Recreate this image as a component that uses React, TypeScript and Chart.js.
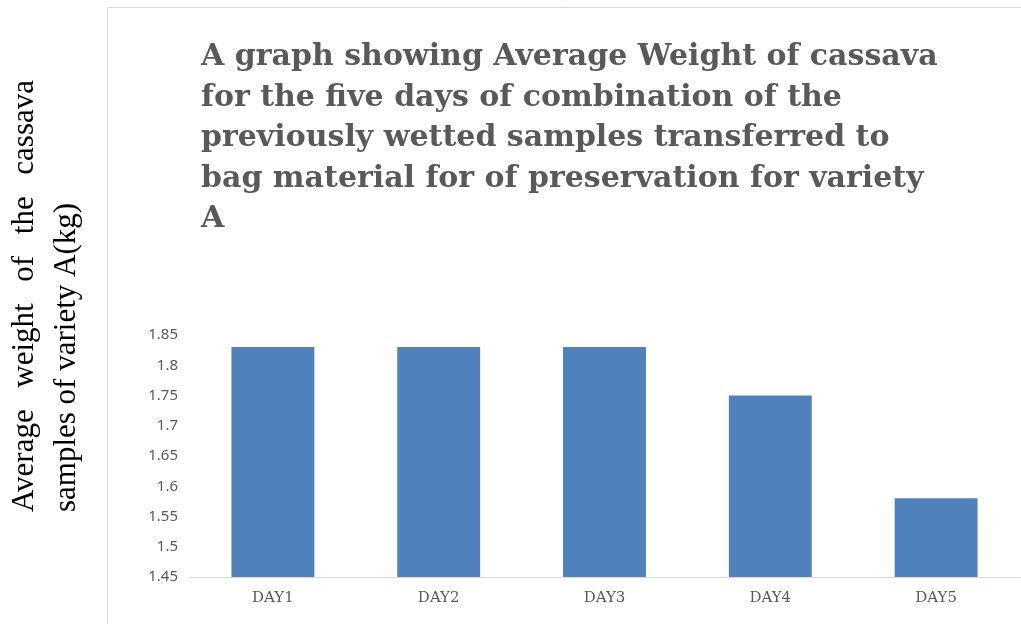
import React, { useEffect, useRef } from "react";
import { Chart, registerables } from "chart.js";

Chart.register(...registerables);

// Average weight of cassava samples (variety A) per day
const days = ["DAY1", "DAY2", "DAY3", "DAY4", "DAY5"];
const avgWeightKg = [1.83, 1.83, 1.83, 1.75, 1.58];

const titleLines = [
  "A graph showing Average Weight of cassava",
  "for the five days of combination of the",
  "previously wetted samples transferred to",
  "bag material for of preservation for variety",
  "A",
];
const yTitleLines = ["Average weight of the cassava", "samples of variety A(kg)"];

const yMin = 1.45;
const yMax = 1.85;
const yStep = 0.05;

const W = 1021;
const H = 624;
const GREY_TEXT = "#595959";
const FRAME = "#d9d9d9";
const BAR = "#4f81bd";

// Frame, big left-aligned title and the justified, rotated y-axis caption
const decorations = {
  id: "decorations",
  beforeDraw(chart: any) {
    const ctx = chart.ctx as CanvasRenderingContext2D;
    ctx.save();
    ctx.fillStyle = "#ffffff";
    ctx.fillRect(0, 0, chart.width, chart.height);
    ctx.strokeStyle = FRAME;
    ctx.lineWidth = 1;
    ctx.beginPath();
    ctx.moveTo(107.5, chart.height);
    ctx.lineTo(107.5, 7.5);
    ctx.lineTo(chart.width, 7.5);
    ctx.stroke();
    ctx.restore();
  },
  afterDraw(chart: any) {
    const ctx = chart.ctx as CanvasRenderingContext2D;
    ctx.save();
    ctx.fillStyle = GREY_TEXT;
    ctx.textBaseline = "alphabetic";
    ctx.textAlign = "left";
    ctx.font = "bold 30px 'DejaVu Serif'";
    titleLines.forEach((line, i) => {
      ctx.fillText(line, 201, 65 + i * 40.5);
    });
    ctx.restore();

    // rotated caption: first line justified to a fixed length, last line left-aligned
    ctx.save();
    ctx.fillStyle = "#000000";
    ctx.font = "31px 'Liberation Serif'";
    ctx.textBaseline = "alphabetic";
    ctx.textAlign = "left";
    ctx.rotate(-Math.PI / 2);
    const start = -512;
    const justifiedLen = 432;
    const words = yTitleLines[0].split(" ");
    const widths = words.map((w) => ctx.measureText(w).width);
    const sum = widths.reduce((a, b) => a + b, 0);
    const gap = (justifiedLen - sum) / (words.length - 1);
    let u = start;
    words.forEach((w, i) => {
      ctx.fillText(w, u, 33);
      u += widths[i] + gap;
    });
    ctx.fillText(yTitleLines[1], start, 75);
    ctx.restore();
  },
};

export default function App() {
  const canvasRef = useRef<HTMLCanvasElement | null>(null);

  useEffect(() => {
    const canvas = canvasRef.current;
    if (!canvas) return;
    const chart = new Chart(canvas, {
      type: "bar",
      data: {
        labels: days,
        datasets: [
          {
            label: "Average weight (kg)",
            data: avgWeightKg,
            backgroundColor: BAR,
            borderWidth: 0,
            categoryPercentage: 1,
            barPercentage: 0.5,
          },
        ],
      },
      plugins: [decorations],
      options: {
        responsive: false,
        animation: false,
        devicePixelRatio: 1,
        layout: { padding: { left: 110, top: 335, right: 2, bottom: 5 } },
        plugins: {
          legend: { display: false },
          title: { display: false },
          tooltip: { enabled: false },
        },
        scales: {
          x: {
            grid: { display: false, drawTicks: false },
            border: { display: true, color: FRAME, width: 1 },
            ticks: {
              color: GREY_TEXT,
              font: { family: "'DejaVu Serif'", size: 15 },
              padding: 12,
            },
          },
          y: {
            min: yMin,
            max: yMax,
            grid: { display: false, drawTicks: false },
            border: { display: false },
            ticks: {
              stepSize: yStep,
              color: GREY_TEXT,
              font: { family: "'Noto Sans'", size: 15 },
              padding: 12,
              callback: (v: any) => String(parseFloat(Number(v).toFixed(2))),
            },
            afterFit: (s: any) => {
              s.width = 80;
            },
          },
        },
      },
    });
    return () => chart.destroy();
  }, []);

  return (
    <div style={{ position: "absolute", left: 0, top: 0, width: W, height: H, background: "#fff" }}>
      <canvas ref={canvasRef} width={W} height={H} style={{ display: "block" }} />
    </div>
  );
}
